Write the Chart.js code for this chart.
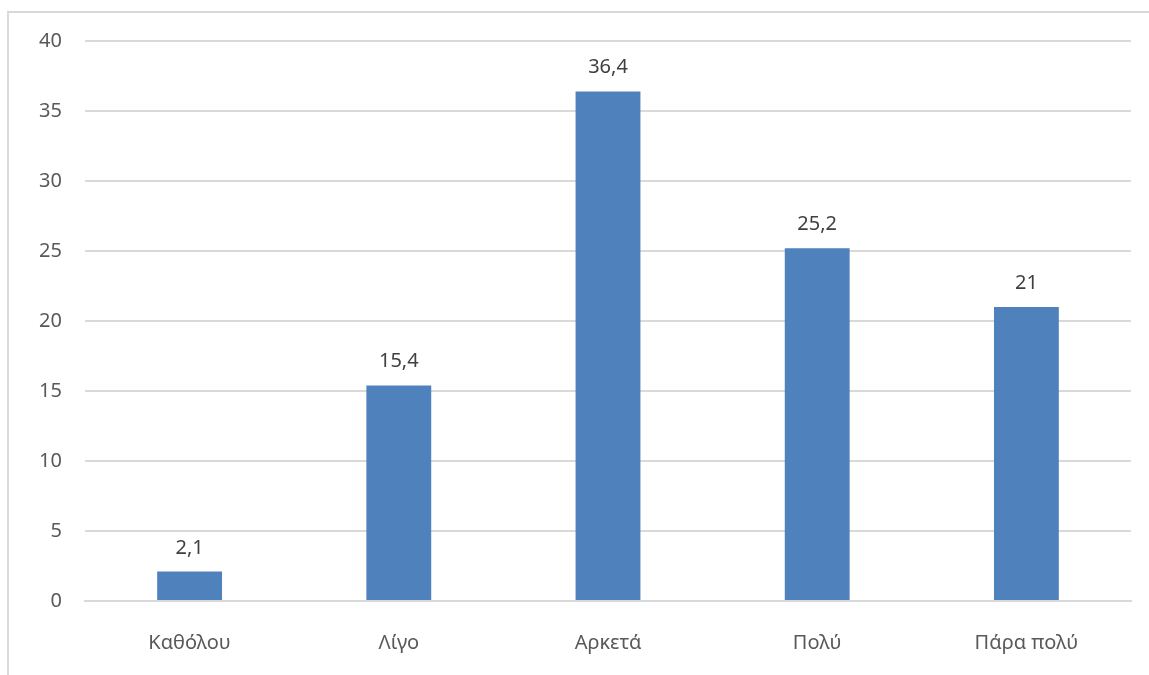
<!DOCTYPE html>
<html><head><meta charset="utf-8">
<script src="https://cdn.jsdelivr.net/npm/chart.js@4/dist/chart.umd.min.js"></script>
<style>html,body{margin:0;padding:0;background:#fff;overflow:hidden}#wrap{position:absolute;left:0;top:0;width:1149px;height:675px}</style>
</head><body><div id="wrap"><canvas id="c" width="1149" height="675"></canvas></div>
<script>
const categories = ["Καθόλου", "Λίγο", "Αρκετά", "Πολύ", "Πάρα πολύ"];
const values = [2.1, 15.4, 36.4, 25.2, 21];
const yTicks = [0, 5, 10, 15, 20, 25, 30, 35, 40];
const FONT = "'Noto Sans', 'Open Sans', sans-serif";
const fmt = v => String(v).replace('.', ',');

const frame = {
  id: 'frame',
  beforeDraw(chart) {
    const ctx = chart.ctx;
    ctx.save();
    ctx.strokeStyle = '#d9d9d9';
    ctx.lineWidth = 2;
    ctx.strokeRect(8, 12, 1200, 700);
    ctx.restore();
  }
};
const labels = {
  id: 'labels',
  afterDatasetsDraw(chart) {
    const ctx = chart.ctx;
    const meta = chart.getDatasetMeta(0);
    ctx.save();
    ctx.fillStyle = '#404040';
    ctx.font = '20px ' + FONT;
    ctx.textAlign = 'center';
    ctx.textBaseline = 'alphabetic';
    meta.data.forEach((bar, i) => {
      ctx.fillText(fmt(values[i]), bar.x, bar.y - 18);
    });
    ctx.restore();
  }
};

new Chart(document.getElementById('c'), {
  type: 'bar',
  data: { labels: categories, datasets: [{ data: values, backgroundColor: '#4f81bd', categoryPercentage: 1, barPercentage: 0.31 }] },
  options: {
    responsive: false, animation: false,
    layout: { padding: { left: 0, right: 18, top: 41, bottom: 0 } },
    plugins: { legend: { display: false }, tooltip: { enabled: false } },
    scales: {
      x: {
        grid: { display: false, drawTicks: false },
        border: { display: true, color: '#d9d9d9', width: 2 },
        ticks: { color: '#595959', font: { family: FONT, size: 20 }, padding: 30 },
        afterFit(scale) { scale.height = 74; }
      },
      y: {
        min: 0, max: 40,
        afterBuildTicks(scale) { scale.ticks = yTicks.map(v => ({ value: v })); },
        grid: { color: '#d9d9d9', lineWidth: 2, drawTicks: false },
        border: { display: false },
        ticks: { color: '#595959', font: { family: FONT, size: 20 }, padding: 23 },
        afterFit(scale) { scale.width = 85; }
      }
    }
  },
  plugins: [frame, labels]
});
</script></body></html>
